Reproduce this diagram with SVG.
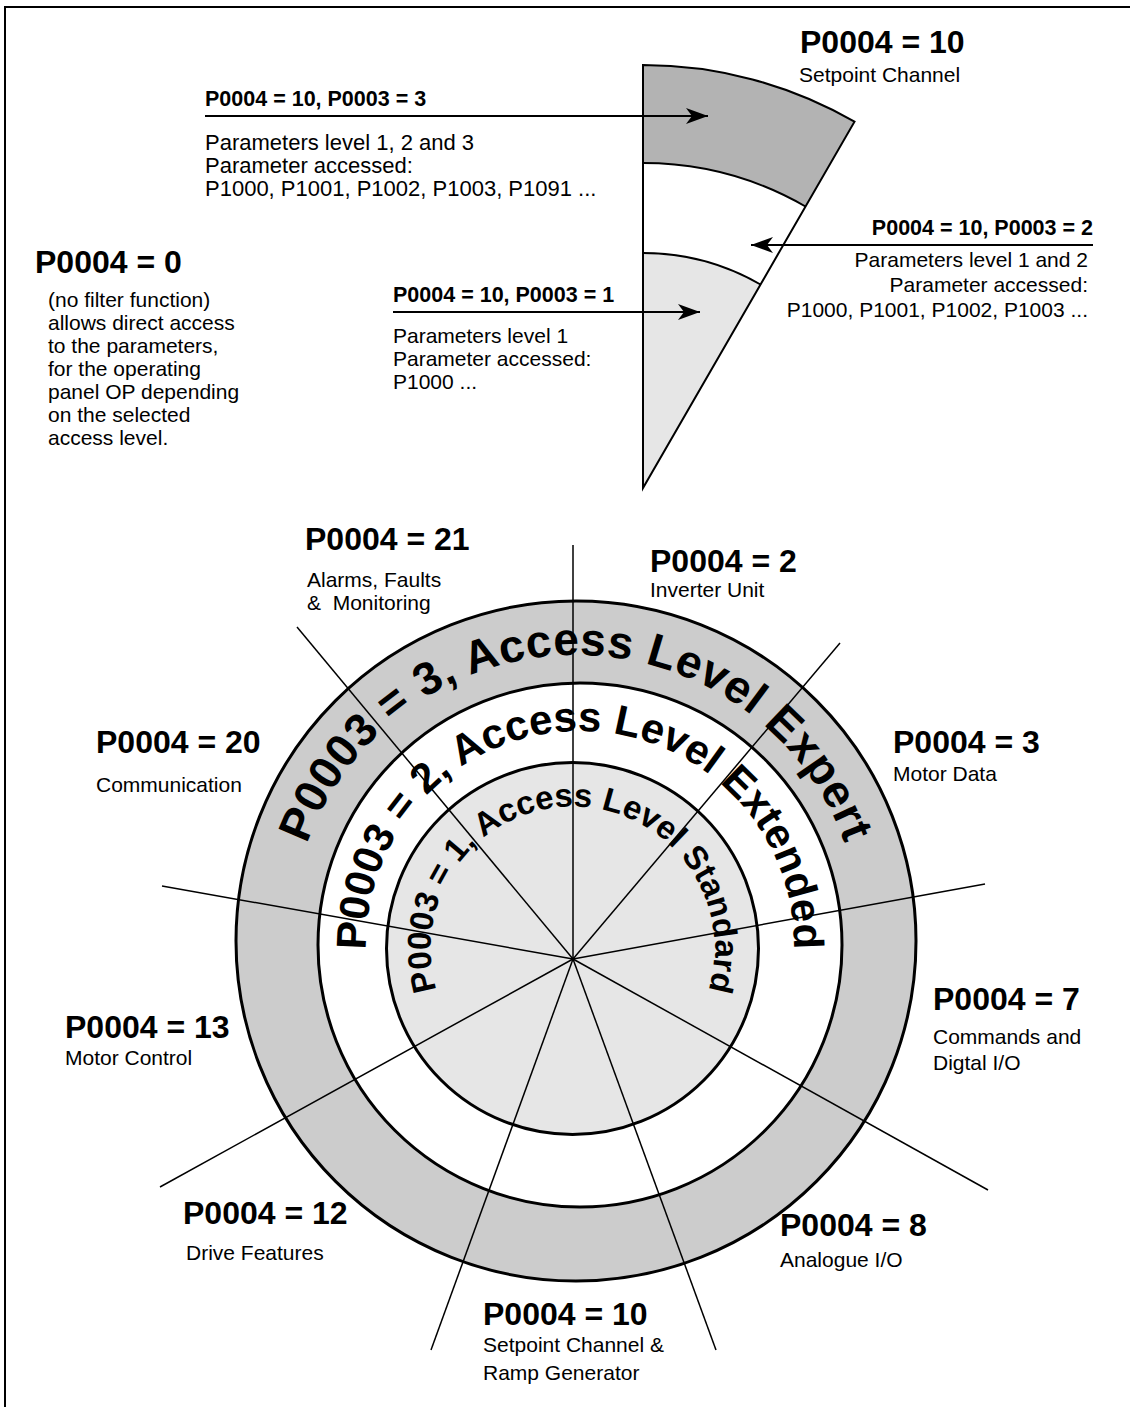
<svg xmlns="http://www.w3.org/2000/svg" width="1130" height="1407" viewBox="0 0 1130 1407">
<style>
text{font-family:"Liberation Sans",Arial,Helvetica,sans-serif;fill:#000}
.b{font-weight:bold;font-size:32px}
.sb{font-weight:bold;font-size:21.5px}
.r{font-size:21px}
.r2{font-size:22px}
.ring{font-weight:bold}
.spoke{stroke:#000;stroke-width:1.5;fill:none}
.arrow{stroke:#000;stroke-width:2;fill:none;marker-end:url(#ah)}
</style>
<defs>
<marker id="ah" markerUnits="userSpaceOnUse" markerWidth="24" markerHeight="18" refX="22" refY="9" orient="auto">
<path d="M0,1 L22,9 L0,17 L6,9 Z" fill="#000"/>
</marker>
<path id="pOuter" d="M 328.3 1084 A 286 286 0 1 1 823.7 1084"/>
<path id="pMid" d="M 394.7 1052 A 214 214 0 1 1 765.3 1052"/>
<path id="pIn" d="M 449.5 1019.5 A 142 142 0 1 1 695.5 1019.5"/>
</defs>
<rect width="1130" height="1407" fill="#fff"/>
<g id="frame" stroke="#000" stroke-width="2">
<line x1="4" y1="7" x2="1130" y2="7"/>
<line x1="5" y1="6" x2="5" y2="1407"/>
</g>
<g id="wedge">
<path d="M 643 65 A 423 423 0 0 1 854.5 121.7 L 805.5 206.5 A 325 325 0 0 0 643 163 Z" fill="#b3b3b3"/>
<path d="M 643 488 L 643 253 A 235 235 0 0 1 760.5 284.5 Z" fill="#e6e6e6"/>
<path d="M 643 163 A 325 325 0 0 1 805.5 206.5 M 643 253 A 235 235 0 0 1 760.5 284.5" fill="none" stroke="#000" stroke-width="2"/>
<path d="M 643 488 L 643 65 A 423 423 0 0 1 854.5 121.7 Z" fill="none" stroke="#000" stroke-width="2"/>
</g>
<g id="rings">
<circle cx="576" cy="941" r="340" fill="#cccccc" stroke="#000" stroke-width="3"/>
<circle cx="580" cy="945" r="262" fill="#fff" stroke="#000" stroke-width="3"/>
<circle cx="572.5" cy="948.5" r="186" fill="#e6e6e6" stroke="#000" stroke-width="3"/>
</g>
<g id="connectors">
<line class="spoke" x1="573" y1="959" x2="573" y2="545"/>
<line class="spoke" x1="573" y1="959" x2="840" y2="643"/>
<line class="spoke" x1="573" y1="959" x2="985" y2="884"/>
<line class="spoke" x1="573" y1="959" x2="988" y2="1190"/>
<line class="spoke" x1="573" y1="959" x2="716" y2="1350"/>
<line class="spoke" x1="573" y1="959" x2="431" y2="1350"/>
<line class="spoke" x1="573" y1="959" x2="160" y2="1187"/>
<line class="spoke" x1="573" y1="959" x2="162" y2="886"/>
<line class="spoke" x1="573" y1="959" x2="297" y2="627"/>
<line class="arrow" x1="205" y1="116" x2="708" y2="116"/>
<line class="arrow" x1="1093" y1="245" x2="751" y2="245"/>
<line class="arrow" x1="393" y1="312" x2="700" y2="312"/>
</g>
<g id="ringtext">
<text class="ring" font-size="46" letter-spacing="0.6"><textPath href="#pOuter" startOffset="50%" text-anchor="middle">P0003 = 3, Access Level Expert</textPath></text>
<text class="ring" font-size="42"><textPath href="#pMid" startOffset="50%" text-anchor="middle">P0003 = 2, Access Level Extended</textPath></text>
<text class="ring" font-size="33"><textPath href="#pIn" startOffset="50%" text-anchor="middle">P0003 = 1, Access Level Standard</textPath></text>
</g>
<g id="n-top10">
<text class="b" x="800" y="53">P0004 = 10</text>
<text class="r" x="799" y="82">Setpoint Channel</text>
</g>
<g id="n-l3">
<text class="sb" x="205" y="106">P0004 = 10, P0003 = 3</text>
<text class="r2" x="205" y="150">Parameters level 1, 2 and 3</text>
<text class="r2" x="205" y="173">Parameter accessed:</text>
<text class="r2" x="205" y="196">P1000, P1001, P1002, P1003, P1091 ...</text>
</g>
<g id="n-l2" text-anchor="end">
<text class="sb" x="1093" y="235">P0004 = 10, P0003 = 2</text>
<text class="r" x="1088" y="267">Parameters level 1 and 2</text>
<text class="r" x="1088" y="292">Parameter accessed:</text>
<text class="r" x="1088" y="317">P1000, P1001, P1002, P1003 ...</text>
</g>
<g id="n-l1">
<text class="sb" x="393" y="302">P0004 = 10, P0003 = 1</text>
<text class="r" x="393" y="343">Parameters level 1</text>
<text class="r" x="393" y="366">Parameter accessed:</text>
<text class="r" x="393" y="389">P1000 ...</text>
</g>
<g id="n-p0">
<text class="b" x="35" y="273">P0004 = 0</text>
<text class="r" x="48" y="307">(no filter function)</text>
<text class="r" x="48" y="330">allows direct access</text>
<text class="r" x="48" y="353">to the parameters,</text>
<text class="r" x="48" y="376">for the operating</text>
<text class="r" x="48" y="399">panel OP depending</text>
<text class="r" x="48" y="422">on the selected</text>
<text class="r" x="48" y="445">access level.</text>
</g>
<g id="n-21">
<text class="b" x="305" y="550">P0004 = 21</text>
<text class="r" x="307" y="587">Alarms, Faults</text>
<text class="r" x="307" y="610" xml:space="preserve">&amp;  Monitoring</text>
</g>
<g id="n-2">
<text class="b" x="650" y="572">P0004 = 2</text>
<text class="r" x="650" y="597">Inverter Unit</text>
</g>
<g id="n-3">
<text class="b" x="893" y="753">P0004 = 3</text>
<text class="r" x="893" y="781">Motor Data</text>
</g>
<g id="n-20">
<text class="b" x="96" y="753">P0004 = 20</text>
<text class="r" x="96" y="792">Communication</text>
</g>
<g id="n-7">
<text class="b" x="933" y="1010">P0004 = 7</text>
<text class="r" x="933" y="1044">Commands and</text>
<text class="r" x="933" y="1070">Digtal I/O</text>
</g>
<g id="n-13">
<text class="b" x="65" y="1038">P0004 = 13</text>
<text class="r" x="65" y="1065">Motor Control</text>
</g>
<g id="n-12">
<text class="b" x="183" y="1224">P0004 = 12</text>
<text class="r" x="186" y="1260">Drive Features</text>
</g>
<g id="n-8">
<text class="b" x="780" y="1236">P0004 = 8</text>
<text class="r" x="780" y="1267">Analogue I/O</text>
</g>
<g id="n-10b">
<text class="b" x="483" y="1325">P0004 = 10</text>
<text class="r" x="483" y="1352">Setpoint Channel &amp;</text>
<text class="r" x="483" y="1380">Ramp Generator</text>
</g>
</svg>
